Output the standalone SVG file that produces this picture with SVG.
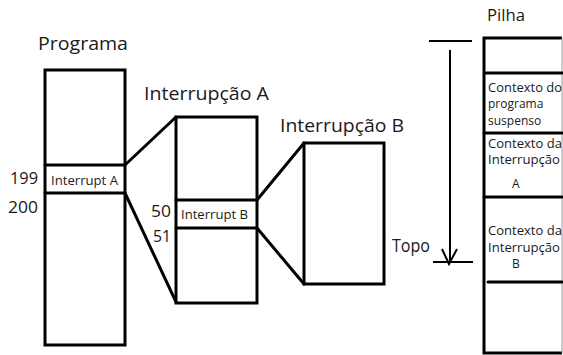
<svg xmlns="http://www.w3.org/2000/svg" width="563" height="355" viewBox="0 0 563 355">
<style>
.box{fill:none;stroke:#000;stroke-width:3}
.ln{fill:none;stroke:#000;stroke-width:3;stroke-linecap:round}
.thin{fill:none;stroke:#000;stroke-width:2}
text{font-family:"Open Sans","Liberation Sans",sans-serif;fill:#1a1a1a}
.t{font-size:19px}
.n{font-size:16px}
.s{font-size:12px}
</style>
<rect width="563" height="355" fill="#fff"/>
<g id="programa">
<text class="t" x="38" y="50" textLength="90" lengthAdjust="spacingAndGlyphs">Programa</text>
<rect class="box" x="45" y="70" width="80" height="275"/>
<line class="ln" x1="45" y1="165" x2="125" y2="165"/>
<line class="ln" x1="45" y1="193" x2="125" y2="193"/>
<text class="s" x="51" y="185" textLength="67" lengthAdjust="spacingAndGlyphs">Interrupt A</text>
<text class="n" x="10" y="184" textLength="28" lengthAdjust="spacingAndGlyphs">199</text>
<text class="n" x="8" y="213" textLength="30" lengthAdjust="spacingAndGlyphs">200</text>
</g>
<g id="interrupcaoA">
<text class="t" x="144" y="100" textLength="125" lengthAdjust="spacingAndGlyphs">Interrupção A</text>
<rect class="box" x="176" y="117" width="81" height="186"/>
<line class="ln" x1="176" y1="200" x2="257" y2="200"/>
<line class="ln" x1="176" y1="228" x2="257" y2="228"/>
<text class="s" x="181" y="219" textLength="67" lengthAdjust="spacingAndGlyphs">Interrupt B</text>
<text class="n" x="151" y="217" textLength="20" lengthAdjust="spacingAndGlyphs">50</text>
<text class="n" x="153" y="242" textLength="18" lengthAdjust="spacingAndGlyphs">51</text>
</g>
<g id="interrupcaoB">
<text class="t" x="280" y="132" textLength="124" lengthAdjust="spacingAndGlyphs">Interrupção B</text>
<rect class="box" x="304" y="143" width="80" height="141"/>
</g>
<g id="pilha">
<text class="n" x="487" y="21" textLength="38" lengthAdjust="spacingAndGlyphs">Pilha</text>
<path class="box" d="M562,38 H484 V353 H562"/>
<line x1="562" y1="38" x2="562" y2="353" stroke="#999" stroke-width="1"/>
<line class="ln" x1="486" y1="73" x2="562" y2="73"/>
<line class="ln" x1="484" y1="133" x2="562" y2="133"/>
<line class="ln" x1="484" y1="197" x2="562" y2="197"/>
<line class="ln" x1="488" y1="282" x2="562" y2="282"/>
<text class="s" x="488" y="92" textLength="74" lengthAdjust="spacingAndGlyphs">Contexto do</text>
<text class="s" x="488" y="108">programa</text>
<text class="s" x="488" y="125">suspenso</text>
<text class="s" x="488" y="148" textLength="74" lengthAdjust="spacingAndGlyphs">Contexto da</text>
<text class="s" x="488" y="164" textLength="72" lengthAdjust="spacingAndGlyphs">Interrupção</text>
<text class="s" x="512" y="188">A</text>
<text class="s" x="488" y="235" textLength="74" lengthAdjust="spacingAndGlyphs">Contexto da</text>
<text class="s" x="488" y="252" textLength="72" lengthAdjust="spacingAndGlyphs">Interrupção</text>
<text class="s" x="512" y="268">B</text>
</g>
<g id="topo">
<text class="t" x="392" y="252" textLength="38" lengthAdjust="spacingAndGlyphs">Topo</text>
</g>
<g id="connectors">
<line class="ln" x1="125" y1="165" x2="176" y2="117"/>
<line class="ln" x1="125" y1="193" x2="176" y2="302"/>
<line class="ln" x1="257" y1="200" x2="304" y2="143"/>
<line class="ln" x1="257" y1="228" x2="304" y2="284"/>
<line class="thin" x1="429" y1="41" x2="472" y2="41"/>
<line class="thin" x1="433" y1="262" x2="473" y2="262"/>
<line class="thin" x1="450" y1="50" x2="450" y2="262"/>
<polyline class="thin" points="442,249 449,264 457,249"/>
</g>
</svg>
